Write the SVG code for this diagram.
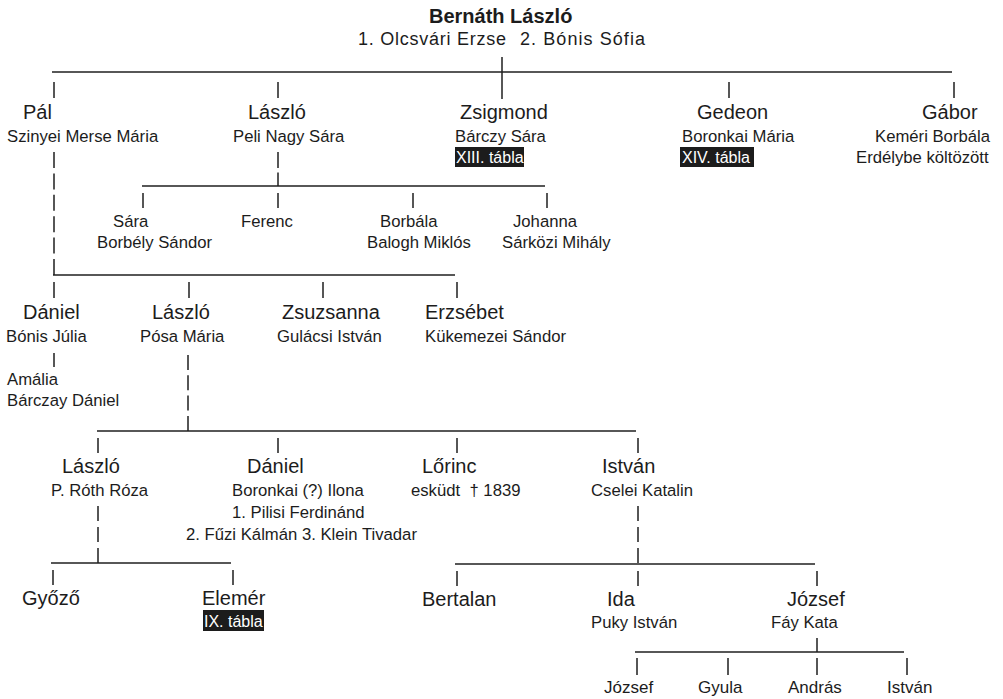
<svg xmlns="http://www.w3.org/2000/svg" width="1003" height="699" viewBox="0 0 1003 699">
  <style>
    text { font-family: "Liberation Sans", Arial, sans-serif; fill: #1c1c1c; }
    .name { font-size: 20px; }
    .title { font-size: 20px; font-weight: bold; }
    .spouses { font-size: 18px; }
    .sub { font-size: 17px; }
    .info { font-size: 16.7px; }
    .tagbox { fill: #1c1c1c; }
    .tagtext { font-size: 16px; fill: #ffffff; }
    .wire { stroke: #1f1f1f; stroke-width: 1.5; fill: none; }
  </style>

  <rect x="0" y="0" width="1003" height="699" fill="#ffffff"/>

  <!-- connectors -->
  <g id="connectors" class="wire">
    <!-- generation 1 -->
    <path d="M502 57V99"/>
    <path d="M52 72H952"/>
    <path d="M54 82V98M278 82V98M729 82V98M954 82V98"/>
    <!-- László and Peli Nagy Sára: children -->
    <path d="M278 152V186" stroke-dasharray="16 4.5"/>
    <path d="M142 186H545"/>
    <path d="M143 193V208M278 193V208M413 193V208M547 193V208"/>
    <!-- Pál and Szinyei Merse Mária: children -->
    <path d="M54 152V275" stroke-dasharray="16 5.4"/>
    <path d="M53 275H455"/>
    <path d="M54 282V298M189 282V298M323 282V298M457 282V298"/>
    <!-- Dániel and Bónis Júlia -->
    <path d="M54 353V367"/>
    <!-- László and Pósa Mária: children -->
    <path d="M188 355V431" stroke-dasharray="15 5.3"/>
    <path d="M97 431H636"/>
    <path d="M98 438V453M278 438V453M457 438V453M638 438V453"/>
    <!-- László and P. Róth Róza: children -->
    <path d="M98 506V563" stroke-dasharray="15 6"/>
    <path d="M51 563H231"/>
    <path d="M53 570V585M233 570V585"/>
    <!-- István and Cselei Katalin: children -->
    <path d="M638 506V564" stroke-dasharray="15 6"/>
    <path d="M455 564H815"/>
    <path d="M457 571V586M638 571V586M817 571V586"/>
    <!-- József and Fáy Kata: children -->
    <path d="M817 638V652"/>
    <path d="M635 652H904"/>
    <path d="M637 658V675M728 658V675M817 658V675M907 658V675"/>
  </g>

  <!-- root -->
  <g id="bernath-laszlo">
    <text class="title" x="429" y="23">Bernáth László</text>
    <text class="spouses" x="358" y="45" textLength="148" lengthAdjust="spacing">1. Olcsvári Erzse</text>
    <text class="spouses" x="520" y="45" textLength="125" lengthAdjust="spacing">2. Bónis Sófia</text>
  </g>

  <!-- generation 1 -->
  <g id="pal">
    <text class="name" x="23" y="119">Pál</text>
    <text class="info" x="7" y="142">Szinyei Merse Mária</text>
  </g>
  <g id="laszlo-1">
    <text class="name" x="248" y="119">László</text>
    <text class="info" x="233" y="142">Peli Nagy Sára</text>
  </g>
  <g id="zsigmond">
    <text class="name" x="460" y="119">Zsigmond</text>
    <text class="info" x="455" y="142">Bárczy Sára</text>
    <rect class="tagbox" x="455" y="147" width="69" height="20"/>
    <text class="tagtext" x="456" y="163">XIII. tábla</text>
  </g>
  <g id="gedeon">
    <text class="name" x="697" y="119">Gedeon</text>
    <text class="info" x="682" y="142">Boronkai Mária</text>
    <rect class="tagbox" x="680" y="147" width="74" height="20"/>
    <text class="tagtext" x="682" y="163">XIV. tábla</text>
  </g>
  <g id="gabor">
    <text class="name" x="922" y="119">Gábor</text>
    <text class="info" x="875" y="142">Keméri Borbála</text>
    <text class="info" x="856" y="163">Erdélybe költözött</text>
  </g>

  <!-- children of László and Peli Nagy Sára -->
  <g id="sara">
    <text class="info" x="113" y="227">Sára</text>
    <text class="info" x="97" y="248">Borbély Sándor</text>
  </g>
  <g id="ferenc">
    <text class="info" x="241" y="227">Ferenc</text>
  </g>
  <g id="borbala">
    <text class="info" x="380" y="227">Borbála</text>
    <text class="info" x="367" y="248">Balogh Miklós</text>
  </g>
  <g id="johanna">
    <text class="info" x="513" y="227">Johanna</text>
    <text class="info" x="502" y="248">Sárközi Mihály</text>
  </g>

  <!-- children of Pál -->
  <g id="daniel-1">
    <text class="name" x="23" y="319">Dániel</text>
    <text class="info" x="6" y="342">Bónis Júlia</text>
  </g>
  <g id="amalia">
    <text class="info" x="7" y="385">Amália</text>
    <text class="info" x="7" y="406">Bárczay Dániel</text>
  </g>
  <g id="laszlo-2">
    <text class="name" x="152" y="319">László</text>
    <text class="info" x="140" y="342">Pósa Mária</text>
  </g>
  <g id="zsuzsanna">
    <text class="name" x="282" y="319">Zsuzsanna</text>
    <text class="info" x="277" y="342">Gulácsi István</text>
  </g>
  <g id="erzsebet">
    <text class="name" x="425" y="319">Erzsébet</text>
    <text class="info" x="425" y="342">Kükemezei Sándor</text>
  </g>

  <!-- children of László and Pósa Mária -->
  <g id="laszlo-3">
    <text class="name" x="62" y="473">László</text>
    <text class="info" x="51" y="496">P. Róth Róza</text>
  </g>
  <g id="daniel-2">
    <text class="name" x="247" y="473">Dániel</text>
    <text class="info" x="232" y="496">Boronkai (?) Ilona</text>
    <text class="info" x="232" y="518">1. Pilisi Ferdinánd</text>
    <text class="info" x="186" y="540">2. Fűzi Kálmán 3. Klein Tivadar</text>
  </g>
  <g id="lorinc">
    <text class="name" x="422" y="473">Lőrinc</text>
    <text class="info" x="411" y="496">esküdt&#160; † 1839</text>
  </g>
  <g id="istvan-1">
    <text class="name" x="602" y="473">István</text>
    <text class="info" x="591" y="496">Cselei Katalin</text>
  </g>

  <!-- children of László and P. Róth Róza -->
  <g id="gyozo">
    <text class="name" x="22" y="605">Győző</text>
  </g>
  <g id="elemer">
    <text class="name" x="202" y="605">Elemér</text>
    <rect class="tagbox" x="203" y="610" width="61" height="21"/>
    <text class="tagtext" x="204" y="627">IX. tábla</text>
  </g>

  <!-- children of István and Cselei Katalin -->
  <g id="bertalan">
    <text class="name" x="422" y="606">Bertalan</text>
  </g>
  <g id="ida">
    <text class="name" x="607" y="606">Ida</text>
    <text class="info" x="591" y="628">Puky István</text>
  </g>
  <g id="jozsef-1">
    <text class="name" x="787" y="606">József</text>
    <text class="info" x="771" y="628">Fáy Kata</text>
  </g>

  <!-- children of József and Fáy Kata -->
  <g id="jozsef-2">
    <text class="sub" x="604" y="693">József</text>
  </g>
  <g id="gyula">
    <text class="sub" x="698" y="693">Gyula</text>
  </g>
  <g id="andras">
    <text class="sub" x="788" y="693">András</text>
  </g>
  <g id="istvan-2">
    <text class="sub" x="887" y="693">István</text>
  </g>
</svg>
